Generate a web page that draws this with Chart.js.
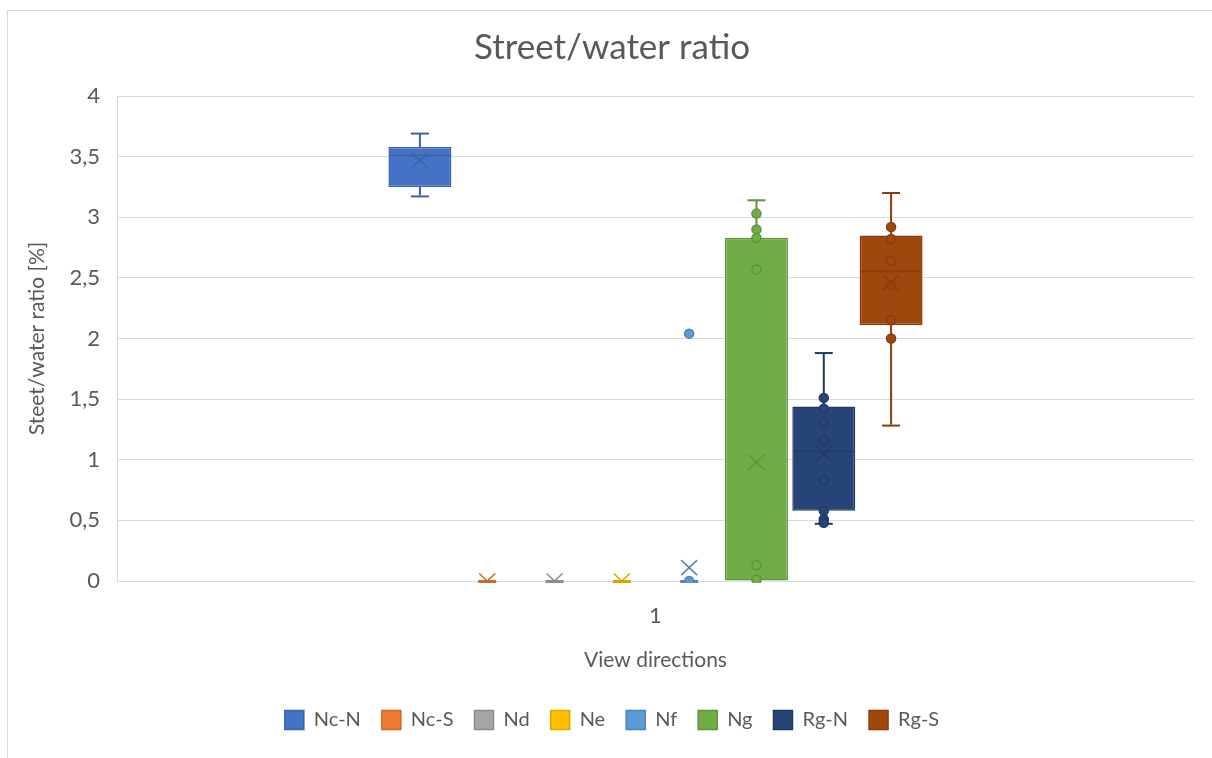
<!DOCTYPE html>
<html>
<head>
<meta charset="utf-8">
<script src="https://cdn.jsdelivr.net/npm/chart.js@4/dist/chart.umd.min.js"></script>
<style>
  html, body { margin: 0; padding: 0; background: #fff; overflow: hidden; }
  #wrap { position: relative; width: 1212px; height: 758px; overflow: hidden; }
  #frame { position: absolute; left: 7px; top: 10px; width: 1240px; height: 780px;
           border: 1px solid #D9D9D9; box-sizing: border-box; }
  #c { position: absolute; left: 0; top: 0; }
</style>
</head>
<body>
<div id="wrap">
  <div id="frame"></div>
  <canvas id="c" width="1212" height="758"></canvas>
</div>
<script>
// Box-and-whisker summary per view direction
const categories = ['1'];
const seriesNames = ['Nc-N', 'Nc-S', 'Nd', 'Ne', 'Nf', 'Ng', 'Rg-N', 'Rg-S'];
const fillColors = ['#4472C4', '#ED7D31', '#A5A5A5', '#FFC000', '#5B9BD5', '#70AD47', '#264478', '#9E480E'];
const lineColors = ['#3A62AA', '#CB6A2A', '#8D8D8D', '#DAA400', '#4E85B7', '#5F933C', '#203A66', '#873D0C'];

const q1Values      = [3.25, 0, 0, 0, 0, 0,    0.58, 2.11];
const medianValues  = [3.51, 0, 0, 0, 0, 0,    1.07, 2.56];
const q3Values      = [3.58, 0, 0, 0, 0, 2.83, 1.44, 2.85];
const meanValues    = [3.47, 0, 0, 0, 0.11, 0.98, 1.05, 2.46];
const whiskerLow    = [3.18, 0, 0, 0, 0, 0,    0.48, 1.29];
const whiskerHigh   = [3.69, 0, 0, 0, 0, 3.14, 1.88, 3.20];

// Individual observations shown as markers
const pointsNcN = [];
const pointsNcS = [];
const pointsNd  = [];
const pointsNe  = [];
const pointsNf  = [0, 2.04];
const pointsNg  = [3.03, 2.90, 2.83, 2.57, 0.13, 0.01];
const pointsRgN = [1.51, 1.42, 1.31, 1.16, 0.83, 0.58, 0.51, 0.48];
const pointsRgS = [2.92, 2.82, 2.64, 2.44, 2.15, 2.00];
const seriesPoints = [pointsNcN, pointsNcS, pointsNd, pointsNe, pointsNf, pointsNg, pointsRgN, pointsRgS];

const yTickLabels = ['0', '0,5', '1', '1,5', '2', '2,5', '3', '3,5', '4'];

const TEXT = '#595959';
const GRID = '#D9D9D9';
const FONT = 'Lato';
const LEFT_PAD = 30;

// Whiskers, medians, markers and mean crosses on top of the box bars
const boxExtras = {
  id: 'boxExtras',
  afterDatasetsDraw(chart) {
    const { ctx, chartArea, scales: { y } } = chart;
    ctx.save();
    ctx.beginPath();
    ctx.rect(chartArea.left, chartArea.top - 20, chartArea.width, chartArea.height + 22);
    ctx.clip();
    const seg = (x1, y1, x2, y2) => { ctx.beginPath(); ctx.moveTo(x1, y1); ctx.lineTo(x2, y2); ctx.stroke(); };
    chart.data.datasets.forEach((ds, i) => {
      const bar = chart.getDatasetMeta(i).data[0];
      if (!bar) return;
      const cx = bar.x, half = bar.width / 2;
      const col = lineColors[i];
      const yq1 = y.getPixelForValue(q1Values[i]);
      const yq3 = y.getPixelForValue(q3Values[i]);
      const ylo = y.getPixelForValue(whiskerLow[i]);
      const yhi = y.getPixelForValue(whiskerHigh[i]);
      ctx.strokeStyle = col;
      ctx.lineWidth = 2;
      // whiskers and caps
      if (yhi < yq3) seg(cx, yq3, cx, yhi);
      if (ylo > yq1) seg(cx, yq1, cx, ylo);
      if (whiskerHigh[i] > q3Values[i] || whiskerHigh[i] === q1Values[i]) seg(cx - 9, yhi, cx + 9, yhi);
      if (whiskerLow[i] < q1Values[i] || whiskerLow[i] === q3Values[i]) seg(cx - 9, ylo + 1, cx + 9, ylo + 1);
      // median
      if (q3Values[i] > q1Values[i] && medianValues[i] > q1Values[i]) {
        ctx.lineWidth = 1.5;
        const ym = Math.round(y.getPixelForValue(medianValues[i])) + 0.5;
        seg(cx - half + 1, ym, cx + half - 1, ym);
      }
      // observations
      ctx.lineWidth = 1.5;
      seriesPoints[i].forEach(v => {
        const py = y.getPixelForValue(v);
        ctx.beginPath();
        ctx.arc(cx, py, 4.5, 0, Math.PI * 2);
        ctx.fillStyle = fillColors[i];
        ctx.fill();
        ctx.stroke();
      });
      // mean cross
      const yMean = y.getPixelForValue(meanValues[i]);
      ctx.lineWidth = 1.5;
      seg(cx - 8, yMean - 7.5, cx + 8, yMean + 7.5);
      seg(cx - 8, yMean + 7.5, cx + 8, yMean - 7.5);
    });
    ctx.restore();
  }
};

function draw() {
  Chart.defaults.font.family = FONT;
  Chart.defaults.color = TEXT;

  new Chart(document.getElementById('c'), {
    type: 'bar',
    data: {
      labels: categories,
      datasets: seriesNames.map((name, i) => ({
        label: name,
        data: [[q1Values[i], q3Values[i]]],
        backgroundColor: fillColors[i],
        borderColor: lineColors[i],
        borderWidth: 1.5,
        borderSkipped: false,
        categoryPercentage: 0.5,
        barPercentage: 0.935
      }))
    },
    options: {
      responsive: false,
      animation: false,
      devicePixelRatio: 1,
      layout: { padding: { top: 10, left: LEFT_PAD, right: 18, bottom: 18 } },
      plugins: {
        title: {
          display: true,
          text: 'Street/water ratio',
          color: TEXT,
          font: { family: FONT, size: 35, weight: 'normal' },
          padding: { top: 17, bottom: 27 }
        },
        legend: {
          position: 'bottom',
          labels: {
            color: TEXT,
            font: { family: FONT, size: 20 },
            boxWidth: 19,
            boxHeight: 19,
            padding: 21
          }
        },
        tooltip: { enabled: false }
      },
      scales: {
        x: {
          grid: { display: false, drawTicks: false },
          border: { display: true, color: GRID },
          ticks: { color: TEXT, font: { size: 22 }, padding: 22 },
          title: {
            display: true,
            text: 'View directions',
            color: TEXT,
            font: { size: 21 },
            padding: { top: 0, bottom: 16 }
          },
          afterFit: s => { s.height = 108; }
        },
        y: {
          min: 0,
          max: 4,
          ticks: {
            stepSize: 0.5,
            color: TEXT,
            font: { size: 22 },
            padding: 17,
            callback: (v, idx) => yTickLabels[idx]
          },
          grid: { color: GRID, lineWidth: 1, drawTicks: false },
          border: { display: true, color: GRID },
          title: {
            display: true,
            text: 'Steet/water ratio [%]',
            color: TEXT,
            font: { size: 21 },
            padding: { top: -5, bottom: 0 }
          },
          afterFit: s => { s.width = 117 - LEFT_PAD; }
        }
      }
    },
    plugins: [boxExtras]
  });
}

if (document.fonts && document.fonts.load) {
  document.fonts.load('20px ' + FONT).then(draw, draw);
} else {
  draw();
}
</script>
</body>
</html>
